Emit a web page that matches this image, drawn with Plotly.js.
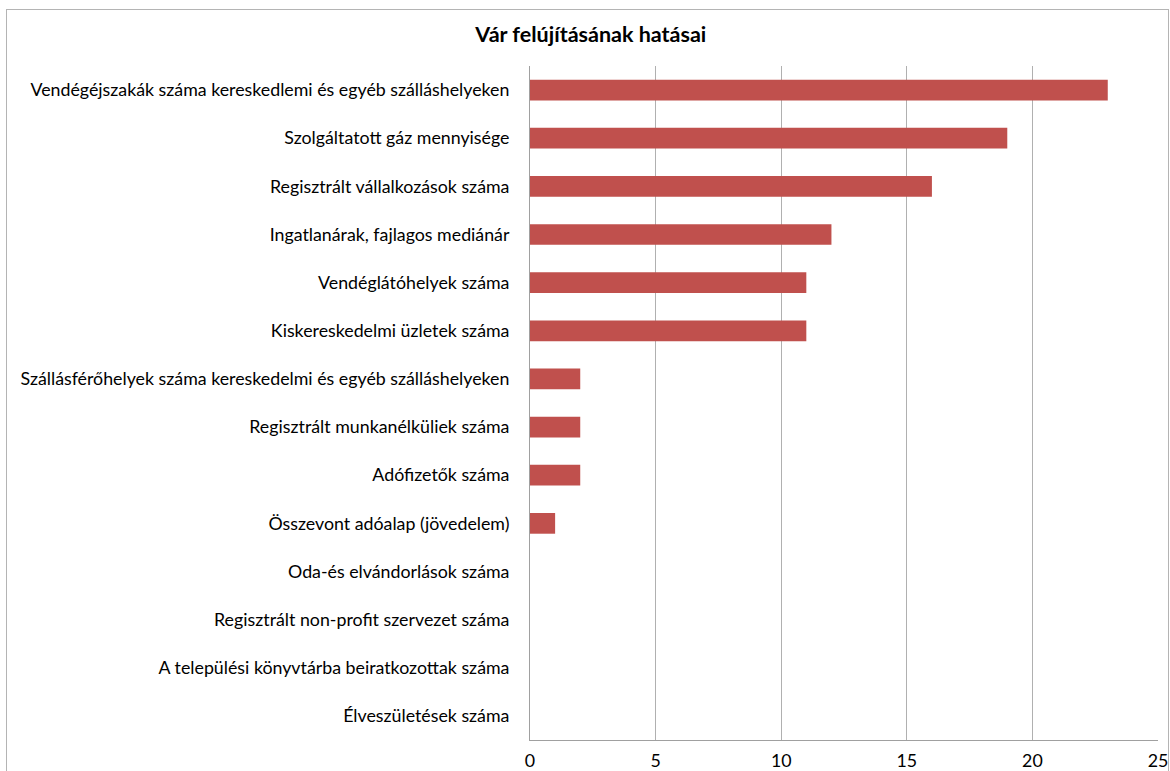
<!DOCTYPE html>
<html>
<head>
<meta charset="utf-8">
<script src="https://cdn.plot.ly/plotly-3.0.1.min.js"></script>
<style>
  body { margin: 0; background: #fff; }
  #chart { width: 1170px; height: 771px; }
  #frame { position: absolute; left: 6px; top: 9px; width: 1161px; height: 800px;
           border: 1px solid #b4b4b4; pointer-events: none; }
</style>
</head>
<body>
<div id="chart"></div>
<div id="frame"></div>
<script>
// top to bottom, as in the reference
var categories = [
  'Vendégéjszakák száma kereskedlemi és egyéb szálláshelyeken',
  'Szolgáltatott gáz mennyisége',
  'Regisztrált vállalkozások száma',
  'Ingatlanárak, fajlagos mediánár',
  'Vendéglátóhelyek száma',
  'Kiskereskedelmi üzletek száma',
  'Szállásférőhelyek száma kereskedelmi és egyéb szálláshelyeken',
  'Regisztrált munkanélküliek száma',
  'Adófizetők száma',
  'Összevont adóalap (jövedelem)',
  'Oda-és elvándorlások száma',
  'Regisztrált non-profit szervezet száma',
  'A települési könyvtárba beiratkozottak száma',
  'Élveszületések száma'
];
var values = [23, 19, 16, 12, 11, 11, 2, 2, 2, 1, 0, 0, 0, 0];
var xTicks = [0, 5, 10, 15, 20, 25];

var data = [{
  type: 'bar',
  orientation: 'h',
  x: values.slice().reverse(),
  y: categories.slice().reverse(),
  marker: { color: '#C0504D' },
  hoverinfo: 'x+y'
}];

var layout = {
  width: 1170,
  height: 771,
  margin: { l: 530, r: 12, t: 66, b: 31 },
  paper_bgcolor: '#fff',
  plot_bgcolor: '#fff',
  font: { family: 'Lato, "Open Sans", sans-serif', size: 17.8, color: '#000' },
  title: {
    text: '<b>Vár felújításának hatásai</b>',
    font: { size: 21.5 },
    xref: 'container', x: 0.505, xanchor: 'center',
    yref: 'container', y: 0.955, yanchor: 'middle'
  },
  bargap: 0.57,
  showlegend: false,
  xaxis: {
    range: [0, 25],
    tickvals: xTicks,
    showgrid: true,
    gridcolor: '#b0b0b0',
    gridwidth: 1,
    zeroline: false,
    showline: true,
    linecolor: '#a0a0a0',
    ticks: '',
    ticklabelstandoff: 5,
    fixedrange: true
  },
  yaxis: {
    type: 'category',
    showgrid: false,
    zeroline: false,
    showline: true,
    linecolor: '#a0a0a0',
    ticks: '',
    ticklabelstandoff: 16,
    automargin: false,
    fixedrange: true
  }
};

Plotly.newPlot('chart', data, layout, { displayModeBar: false, staticPlot: true });
</script>
</body>
</html>
